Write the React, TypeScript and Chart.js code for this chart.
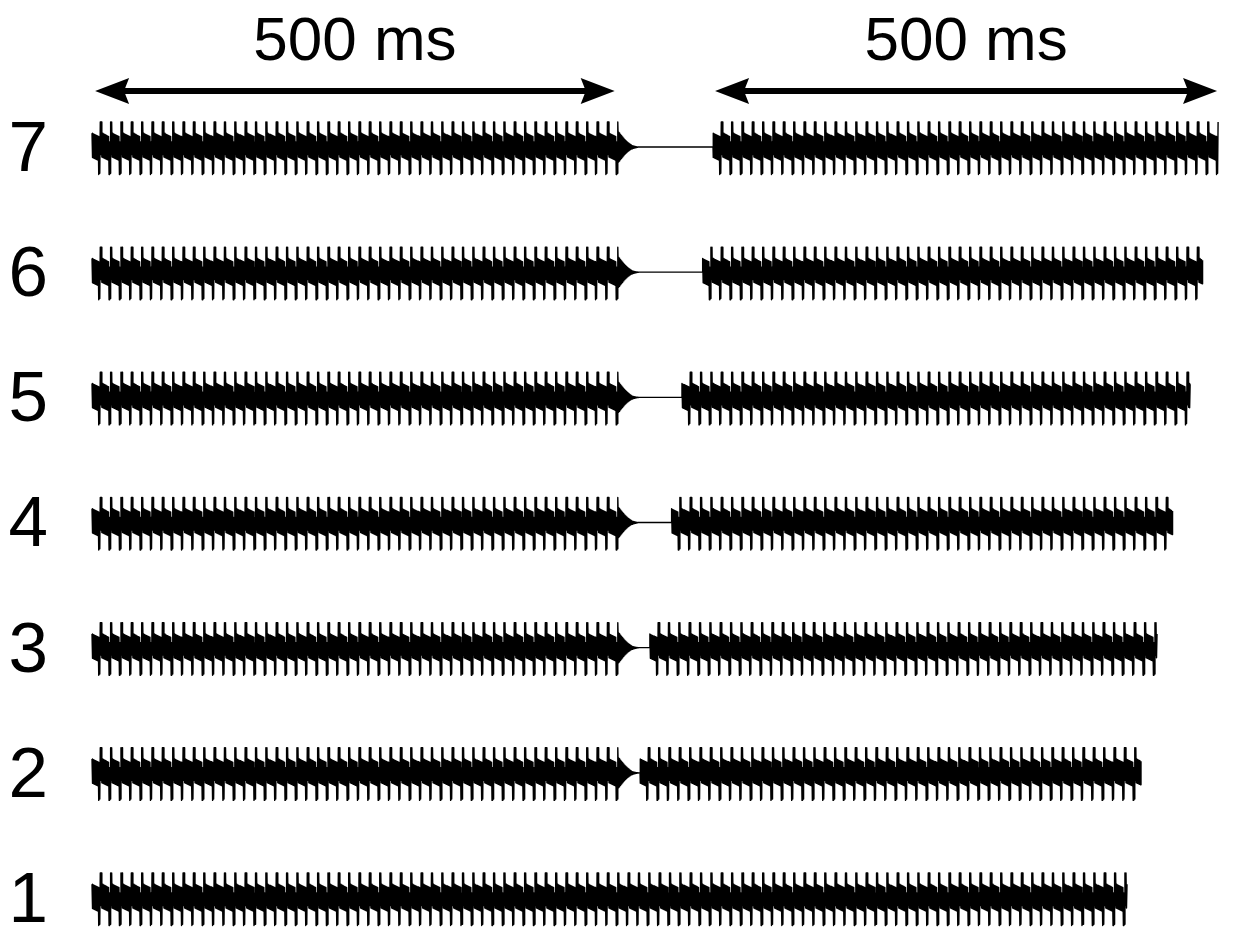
import React, { useEffect, useRef } from "react";
import { Chart, registerables } from "chart.js";

Chart.register(...registerables);

// ---- data ----
const rowLabels = ["1", "2", "3", "4", "5", "6", "7"];
const gapMs = [0, 15, 30, 45, 60, 75, 90];
// end of the first tone (ms); row 1 is one continuous 1000 ms tone
const tone1EndMs = [1000, 508, 508, 508, 508, 508, 508];
const tone2StartMs = [null, 529.5, 539, 560, 570, 590, 600];
const tone2EndMs = [null, 1013.5, 1029, 1044, 1061, 1073, 1088];
// one 10 ms period of the waveform, sampled every 0.5 ms (±1 = spike height)
const periodShape = [
  0.55, -0.42, 0.52, -0.44, 0.5, -0.46, 0.48, -0.48, 0.46, -0.5,
  0.44, -0.52, 0.42, -1.1, 0.2, -1.05, 1.0, -0.3, 1.0, -0.4,
];
// envelope of the decay after the first tone, per ms
const offsetDecay = [
  0.6, 0.56, 0.5, 0.45, 0.4, 0.35, 0.3, 0.26, 0.22, 0.18,
  0.15, 0.12, 0.09, 0.07, 0.05, 0.04, 0.03, 0.02, 0.01, 0.005,
];
const sampleMs = 0.5;
const arrowSpansMs = [
  [3, 505],
  [602, 1087],
];
const arrowLabels = ["500 ms", "500 ms"];

// ---- layout / style constants ----
const AMP = 0.2; // row units per unit of amplitude
const LABEL_SHIFT = 0.035; // nudges row labels down slightly
const FONT = '"Liberation Sans", Arial, Helvetica, sans-serif';

function buildRow(r: number) {
  const pts: { x: number; y: number }[] = [];
  const y0 = r + 1;
  const push = (t: number, a: number) => pts.push({ x: t, y: y0 + a * AMP });
  const L = periodShape.length;
  const n1 = Math.round(tone1EndMs[r] / sampleMs);
  for (let k = 0; k <= n1; k++) push(k * sampleMs, periodShape[k % L]);
  const s2 = tone2StartMs[r];
  const e2 = tone2EndMs[r];
  if (s2 == null || e2 == null) return pts;
  const t1 = tone1EndMs[r];
  offsetDecay.forEach((env, j) => {
    push(t1 + j + 0.25, env);
    push(t1 + j + 0.75, -env);
  });
  push(t1 + offsetDecay.length, 0);
  push(s2, 0);
  const n2 = Math.round((e2 - s2) / sampleMs);
  for (let k = 0; k <= n2; k++) push(s2 + k * sampleMs, periodShape[k % L]);
  return pts;
}

const arrowPlugin = {
  id: "arrowsAndTitles",
  afterDraw(chart: any) {
    const { ctx } = chart;
    const xs = chart.scales.x;
    const Y = 91;
    const HEAD = 34;
    const HALF = 13;
    const SHAFT = 6;
    ctx.save();
    ctx.fillStyle = "#000";
    arrowSpansMs.forEach(([a, b], i) => {
      const x1 = xs.getPixelForValue(a);
      const x2 = xs.getPixelForValue(b);
      ctx.fillRect(x1 + HEAD * 0.8, Y - SHAFT / 2, x2 - x1 - HEAD * 1.6, SHAFT);
      ctx.beginPath();
      ctx.moveTo(x1, Y);
      ctx.lineTo(x1 + HEAD, Y - HALF);
      ctx.lineTo(x1 + HEAD * 0.85, Y);
      ctx.lineTo(x1 + HEAD, Y + HALF);
      ctx.closePath();
      ctx.fill();
      ctx.beginPath();
      ctx.moveTo(x2, Y);
      ctx.lineTo(x2 - HEAD, Y - HALF);
      ctx.lineTo(x2 - HEAD * 0.85, Y);
      ctx.lineTo(x2 - HEAD, Y + HALF);
      ctx.closePath();
      ctx.fill();
      ctx.font = `62px ${FONT}`;
      ctx.textAlign = "center";
      ctx.textBaseline = "alphabetic";
      ctx.fillText(arrowLabels[i], (x1 + x2) / 2, 60);
    });
    ctx.restore();
  },
};

export default function App() {
  const ref = useRef<HTMLCanvasElement | null>(null);
  useEffect(() => {
    if (!ref.current) return;
    const datasets = rowLabels.map((lab, r) => ({
      label: `${lab} (gap ${gapMs[r]} ms)`,
      data: buildRow(r),
      borderColor: "#000",
      borderWidth: 1.4,
      borderJoinStyle: "round" as const,
      pointRadius: 0,
      tension: 0,
      fill: false,
    }));
    const chart = new Chart(ref.current, {
      type: "line",
      data: { datasets },
      options: {
        animation: false,
        responsive: true,
        maintainAspectRatio: false,
        parsing: false,
        normalized: true,
        events: [],
        layout: { padding: 0 },
        plugins: { legend: { display: false }, tooltip: { enabled: false } },
        scales: {
          x: { type: "linear", min: -11.6, max: 1102.4, display: false },
          y: {
            type: "linear",
            position: "left",
            min: 0.7523,
            max: 8.1744,
            afterFit: (s: any) => {
              s.width = 80;
              s.paddingTop = 0;
              s.paddingBottom = 0;
              s.paddingLeft = 0;
              s.paddingRight = 0;
            },
            afterBuildTicks: (s: any) => {
              s.ticks = rowLabels.map((_, i) => ({ value: i + 1 - LABEL_SHIFT }));
            },
            ticks: {
              autoSkip: false,
              padding: 32,
              color: "#000",
              font: { size: 71, family: FONT },
              callback: (v: any) => rowLabels[Math.round(v) - 1],
            },
            grid: { display: false, drawTicks: false },
            border: { display: false },
          },
        },
      },
      plugins: [arrowPlugin],
    });
    return () => chart.destroy();
  }, []);
  return (
    <div style={{ position: "absolute", left: 0, top: 0, width: 1233, height: 929, background: "#fff" }}>
      <canvas ref={ref} />
    </div>
  );
}
